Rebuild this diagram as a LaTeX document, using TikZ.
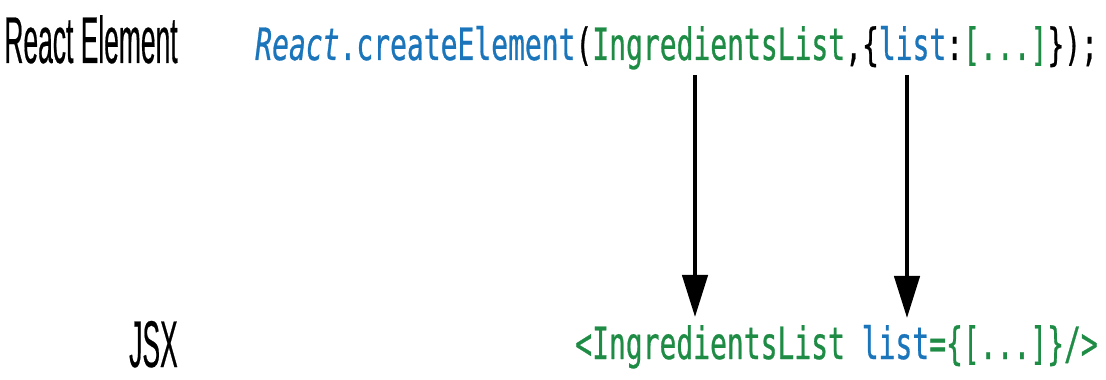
\documentclass[tikz,border=0pt]{standalone}
\usepackage{fontspec}
\usetikzlibrary{arrows.meta,positioning}
\newfontfamily\codefont[FakeStretch=0.63,FakeBold=0.6]{DejaVu Sans Mono}
\newfontfamily\labelfont[FakeStretch=0.40,FakeBold=0.3]{Liberation Sans}
\definecolor{jsblue}{HTML}{1B75BB}
\definecolor{jsgreen}{HTML}{1E8C45}

\begin{document}
\begin{tikzpicture}[x=0.025cm,y=-0.025cm,
  lbl/.style={inner sep=0pt,font=\labelfont\fontsize{47}{52}\selectfont,anchor=base east},
  code/.style={inner sep=0pt,font=\codefont\fontsize{31.6}{36}\selectfont,anchor=base west},
  arr/.style={line width=2.8pt,-{Triangle[length=30pt,width=18pt]}}]
\useasboundingbox (0,0) rectangle (1106,380);

% labels on the left
\node[lbl] (reactlbl) at (178,63) {React Element};
\node[lbl] (jsxlbl) at (178,367) {JSX};

% the two code lines
\node[code] (create) at (255,60) {\textcolor{jsblue}{{\itshape React}.createElement}(\textcolor{jsgreen}{IngredientsList},\{\textcolor{jsblue}{list}:\textcolor{jsgreen}{[...]}\});};
\node[code] (jsx) at (575,359) {\textcolor{jsgreen}{<IngredientsList} \textcolor{jsblue}{list}\textcolor{jsgreen}{=\{[...]\}/>}};

% arrow ends
\coordinate (ingfrom) at (695,75);
\coordinate (ingto) at (695,317);
\coordinate (listfrom) at (907,75);
\coordinate (listto) at (907,318);

\draw[arr] (ingfrom) -- (ingto);
\draw[arr] (listfrom) -- (listto);
\end{tikzpicture}
\end{document}
